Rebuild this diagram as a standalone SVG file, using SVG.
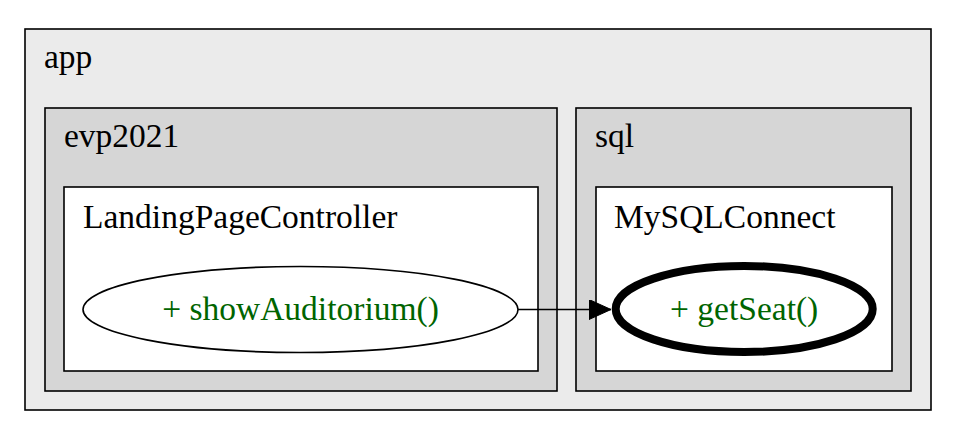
<svg xmlns="http://www.w3.org/2000/svg" width="955" height="437" viewBox="0 0 955 437">
<style>
.lbl{font-family:"Liberation Serif","Times New Roman",serif;font-size:33.5px;fill:#000}
.meth{font-family:"Liberation Serif","Times New Roman",serif;font-size:33.5px;fill:#006400;text-anchor:middle}
.box{stroke:#000;stroke-width:1.6}
</style>
<defs>
<marker id="arr" viewBox="0 0 22 20" refX="22" refY="10" markerWidth="22" markerHeight="20" markerUnits="userSpaceOnUse" orient="auto">
<path d="M0,0 L22,10 L0,20 Z" fill="#000" stroke="#000" stroke-width="1"/>
</marker>
</defs>
<rect width="955" height="437" fill="#fff"/>
<g id="cluster_app">
<rect class="box" x="25" y="29" width="906" height="381" fill="#ebebeb"/>
<text class="lbl" x="44" y="68">app</text>
</g>
<g id="cluster_evp2021">
<rect class="box" x="45" y="108" width="512" height="283" fill="#d6d6d6"/>
<text class="lbl" x="64" y="147">evp2021</text>
</g>
<g id="cluster_LandingPageController">
<rect class="box" x="64" y="187" width="474" height="184" fill="#fff"/>
<text class="lbl" x="83" y="228">LandingPageController</text>
</g>
<g id="cluster_sql">
<rect class="box" x="576" y="108" width="335" height="283" fill="#d6d6d6"/>
<text class="lbl" x="595" y="147">sql</text>
</g>
<g id="cluster_MySQLConnect">
<rect class="box" x="596" y="187" width="296" height="184" fill="#fff"/>
<text class="lbl" x="614" y="228">MySQLConnect</text>
</g>
<g id="node_showAuditorium">
<ellipse cx="300.5" cy="309.5" rx="217.5" ry="43" fill="#fff" stroke="#000" stroke-width="1.6"/>
<text class="meth" x="300.5" y="320">+ showAuditorium()</text>
</g>
<g id="node_getSeat">
<ellipse cx="744.2" cy="309" rx="128.5" ry="43" fill="#fff" stroke="#000" stroke-width="8"/>
<text class="meth" x="744.2" y="320">+ getSeat()</text>
</g>
<g id="connectors">
<line x1="518" y1="309.5" x2="611" y2="309.5" stroke="#000" stroke-width="1.6" marker-end="url(#arr)"/>
</g>
</svg>
